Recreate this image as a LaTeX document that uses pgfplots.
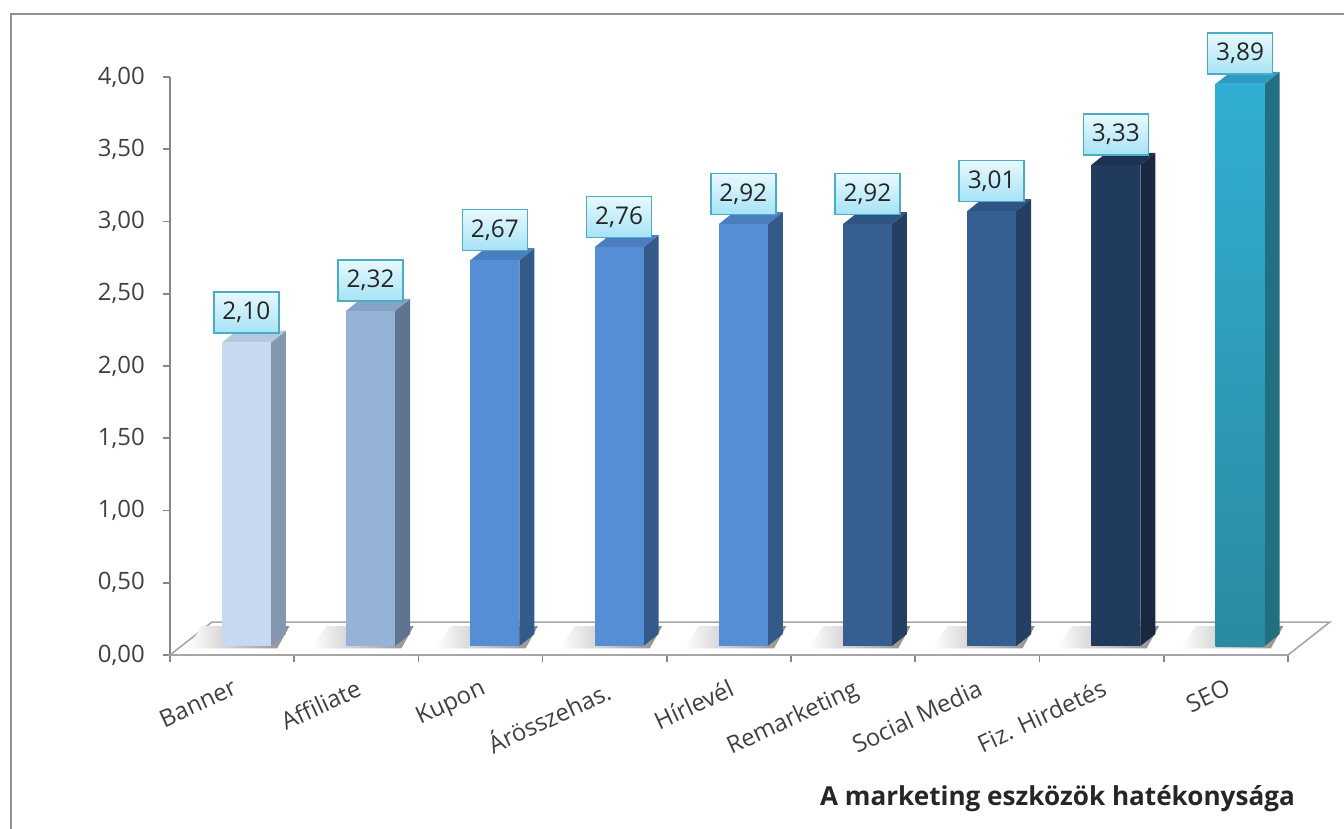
\documentclass[border=0pt]{standalone}
\usepackage{pgfplots}
\usepackage{pgfplotstable}
\pgfplotsset{compat=1.18}
\usepackage{fontspec}
\setmainfont{Open Sans}

\definecolor{axisgray}{HTML}{868686}
\definecolor{floorgray}{HTML}{A6A6A6}
\definecolor{txt}{HTML}{404040}
\definecolor{fr0}{HTML}{C6D9F1}\definecolor{sd0}{HTML}{8497B0}\definecolor{tp0}{HTML}{B4C7DF}
\definecolor{fr1}{HTML}{95B3D7}\definecolor{sd1}{HTML}{5E7491}\definecolor{tp1}{HTML}{86A2C4}
\definecolor{fr2}{HTML}{558ED5}\definecolor{sd2}{HTML}{345A8A}\definecolor{tp2}{HTML}{4A7EC0}
\definecolor{fr3}{HTML}{558ED5}\definecolor{sd3}{HTML}{345A8A}\definecolor{tp3}{HTML}{4A7EC0}
\definecolor{fr4}{HTML}{558ED5}\definecolor{sd4}{HTML}{345A8A}\definecolor{tp4}{HTML}{4A7EC0}
\definecolor{fr5}{HTML}{365F91}\definecolor{sd5}{HTML}{243F61}\definecolor{tp5}{HTML}{2F5585}
\definecolor{fr6}{HTML}{365F91}\definecolor{sd6}{HTML}{243F61}\definecolor{tp6}{HTML}{2F5585}
\definecolor{fr7}{HTML}{213B5E}\definecolor{sd7}{HTML}{17283F}\definecolor{tp7}{HTML}{1C3353}
\definecolor{fr8}{HTML}{31AED4}\definecolor{sd8}{HTML}{216F80}\definecolor{tp8}{HTML}{2C9DBF}
\definecolor{fr8b}{HTML}{2A8BA0}
\definecolor{boxborder}{HTML}{4BACC6}
\definecolor{boxtop}{HTML}{E8F9FE}
\definecolor{boxbot}{HTML}{A6E3F5}

\pgfplotsset{
  front0/.style={fill=fr0}, front1/.style={fill=fr1}, front2/.style={fill=fr2},
  front3/.style={fill=fr3}, front4/.style={fill=fr4}, front5/.style={fill=fr5},
  front6/.style={fill=fr6}, front7/.style={fill=fr7},
  front8/.style={top color=fr8, bottom color=fr8b},
}

\pgfplotstableread{
x v
0 2.10
1 2.32
2 2.67
3 2.76
4 2.92
5 2.92
6 3.01
7 3.33
8 3.89
}\datatable

\newcommand\tickfont{\fontsize{24}{28}\selectfont}

\begin{document}
\begin{tikzpicture}
\useasboundingbox (0,0) rectangle (1344bp,829bp);
\draw[axisgray!90, line width=1.6bp] (11bp,-10bp) -- (11bp,815bp) -- (1360bp,815bp);
\begin{axis}[
  scale only axis,
  width=1118bp, height=578bp,
  at={(170bp,174bp)}, anchor=south west,
  xmin=-0.5, xmax=8.5, ymin=0, ymax=4,
  clip=false,
  axis lines*=left,
  axis line style={draw=axisgray, line width=1.6bp},
  tick align=outside,
  major tick length=7bp,
  tick style={draw=axisgray, line width=1.6bp},
  ytick={0,0.5,...,4},
  yticklabel style={font=\tickfont, text=txt, anchor=east, inner sep=0pt, xshift=-18bp},
  /pgf/number format/.cd, fixed, fixed zerofill, precision=2, use comma, assume math mode=true,
  /pgfplots/.cd,
  xtick={-0.5,0.5,...,8.5},
  xticklabels={Banner,Affiliate,Kupon,Árösszehas.,Hírlevél,Remarketing,Social Media,Fiz. Hirdetés,SEO,{}},
  xticklabel style={font=\tickfont, text=txt, xshift=61bp, yshift=-16bp, rotate=25, anchor=north east, inner sep=0pt},
]
% floor
\addplot[fill=white, draw=floorgray, line width=1.6bp] coordinates {(-0.5,0) (8.5,0) (8.838,0.228) (-0.162,0.228)} -- cycle;
% shadows
\pgfplotsinvokeforeach{0,...,8}{
  \pgfmathsetmacro\xl{#1+0.115-0.197}
  \pgfmathsetmacro\xr{#1+0.115+0.197}
  \pgfmathsetmacro\sa{\xl-0.28}
  \pgfmathsetmacro\sb{\xr+0.05}
  \pgfmathsetmacro\sc{\xr+0.15}
  \pgfmathsetmacro\sd{\xl-0.16}
  \edef\temp{\noexpand\addplot[draw=none, left color=white, right color=black!45] coordinates {(\sa,0.045) (\sb,0.045) (\sc,0.20) (\sd,0.20)} -- cycle;}
  \temp
}
% bars
\pgfplotsinvokeforeach{0,...,8}{
  \pgfplotstablegetelem{#1}{v}\of\datatable
  \pgfmathsetmacro\yt{\pgfplotsretval+0.062}
  \pgfmathsetmacro\ytt{\yt+0.083}
  \pgfmathsetmacro\xl{#1+0.115-0.197}
  \pgfmathsetmacro\xr{#1+0.115+0.197}
  \pgfmathsetmacro\xs{\xr+0.121}
  \pgfmathsetmacro\xt{\xl+0.121}
  \edef\temp{\noexpand\addplot[draw=none, fill=sd#1] coordinates {(\xr,0.062) (\xs,0.145) (\xs,\ytt) (\xr,\yt)} -- cycle;
  \noexpand\addplot[draw=none, fill=tp#1] coordinates {(\xl,\yt) (\xr,\yt) (\xs,\ytt) (\xt,\ytt)} -- cycle;
  \noexpand\addplot[draw=none, front#1] coordinates {(\xl,0.062) (\xr,0.062) (\xr,\yt) (\xl,\yt)} -- cycle;}
  \temp
}
% value labels
\addplot[draw=none, mark=none,
  nodes near coords={\pgfmathprintnumber[fixed, fixed zerofill, precision=2, use comma, assume math mode=true]{\pgfplotspointmeta}},
  point meta=explicit,
  every node near coord/.append style={anchor=south, yshift=-3bp, font=\fontsize{24.5}{28}\selectfont, text=black!85,
    draw=boxborder, line width=1.5bp, top color=boxtop, bottom color=boxbot,
    minimum width=65bp, minimum height=41bp, inner sep=0pt},
] table[x expr=\thisrow{x}+0.115, y expr=\thisrow{v}+0.145, meta=v] {\datatable};
\end{axis}
\node[anchor=base east, inner sep=0pt, font=\fontsize{26.2}{30}\selectfont\bfseries, text=black!85] at (1295bp,24bp) {A marketing eszközök hatékonysága};
\end{tikzpicture}
\end{document}
